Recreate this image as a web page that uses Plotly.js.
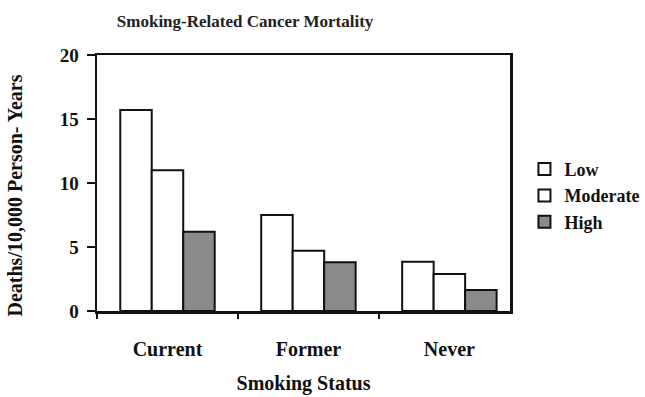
<!DOCTYPE html>
<html>
<head>
<meta charset="utf-8">
<script src="https://cdn.plot.ly/plotly-3.0.1.min.js"></script>
<style>html,body{margin:0;padding:0;background:#fff;}#chart{width:645px;height:397px;}</style>
</head>
<body>
<div id="chart"></div>
<script>
const categories = ["Current", "Former", "Never"];
const seriesNames = ["Low", "Moderate", "High"];
const lowValues = [15.7, 7.5, 3.85];
const moderateValues = [11.0, 4.7, 2.9];
const highValues = [6.2, 3.8, 1.65];
const yTicks = [0, 5, 10, 15, 20];

const font = "Liberation Serif, Times New Roman, serif";
const fills = ["#ffffff", "#ffffff", "#8a8a8a"];
const allValues = [lowValues, moderateValues, highValues];

const traces = allValues.map((vals, i) => ({
  type: "bar",
  name: "<b>" + seriesNames[i] + "</b>",
  x: categories,
  y: vals,
  marker: { color: fills[i], line: { color: "#111", width: 2 } },
  hoverinfo: "skip"
}));

const layout = {
  width: 645, height: 397,
  margin: { l: 97, r: 135, t: 55, b: 86, autoexpand: false },
  paper_bgcolor: "#fff", plot_bgcolor: "#fff",
  font: { family: font, color: "#111", size: 15 },
  title: { text: "<b>Smoking-Related Cancer Mortality</b>", x: 0.38, xanchor: "center", y: 0.948, yanchor: "middle", font: { family: font, size: 17, color: "#222" } },
  barmode: "group", bargap: 0.33, bargroupgap: 0,
  showlegend: true,
  legend: { x: 1.035, y: 0.45, xanchor: "left", yanchor: "middle", font: { family: font, size: 18, color: "#111" }, itemwidth: 30, tracegroupgap: 0, bgcolor: "rgba(0,0,0,0)" },
  xaxis: {
    type: "category", range: [-0.5, 2.43],
    tickmode: "array", tickvals: categories, ticktext: categories.map(c => "<b>" + c + "</b>"),
    tickson: "boundaries", ticks: "outside", ticklen: 5, tickwidth: 1.5, tickcolor: "#111",
    showline: true, linecolor: "#111", linewidth: 2.5, mirror: true, showgrid: false,
    ticklabelstandoff: 18,
    tickfont: { family: font, size: 20, color: "#111" },
    title: { text: "<b>Smoking Status</b>", font: { family: font, size: 20, color: "#111" }, standoff: 18 }
  },
  yaxis: {
    range: [0, 20], tickmode: "array", tickvals: yTicks, ticktext: yTicks.map(v => "<b>" + v + "</b>"),
    ticks: "outside", ticklen: 8, tickwidth: 1.5, tickcolor: "#111",
    showline: true, linecolor: "#111", linewidth: 2.5, mirror: true, showgrid: false, zeroline: false,
    ticklabelstandoff: 4,
    tickfont: { family: font, size: 19, color: "#111" },
    title: { text: "<b>Deaths/10,000 Person- Years</b>&nbsp;&nbsp;&nbsp;&nbsp;&nbsp;", font: { family: font, size: 20, color: "#111" }, standoff: 32 }
  }
};

Plotly.newPlot("chart", traces, layout, { displayModeBar: false, staticPlot: true });
</script>
</body>
</html>
